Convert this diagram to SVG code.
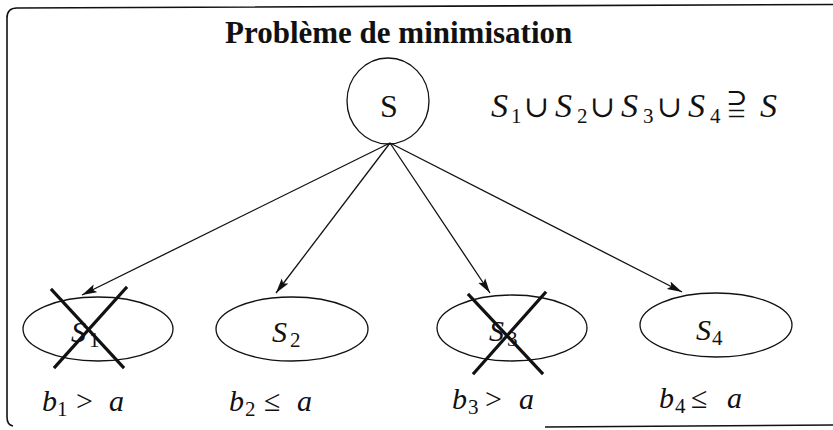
<svg xmlns="http://www.w3.org/2000/svg" width="833" height="430" viewBox="0 0 833 430">
<defs>
<style>
.frame{fill:none;stroke:#111;stroke-width:1.6}
.node{fill:none;stroke:#111;stroke-width:1.3}
.edge{fill:none;stroke:#111;stroke-width:1.3}
.cross{stroke:#111;stroke-width:3.2;stroke-linecap:square}
text{font-family:"Liberation Serif","Times New Roman","DejaVu Serif",serif;fill:#111}
.it{font-style:italic}
.sub{font-style:normal;font-size:21px}
.op{font-style:normal}
</style>
<marker id="ah" markerUnits="userSpaceOnUse" markerWidth="16" markerHeight="10" refX="15" refY="5" orient="auto">
<path d="M0,0.8 L15,5 L0,9.2 L3,5 Z" fill="#111"/>
</marker>
</defs>
<rect width="833" height="430" fill="#fff"/>
<path class="frame" d="M833,4.5 L17,8 Q7,8 7,18 L7,417 Q7,425 13,426"/>
<path class="frame" d="M545,427 L833,425"/>
<text x="225" y="43" font-size="31" font-weight="bold">Problème de minimisation</text>
<text class="it" font-size="34" y="117"><tspan x="491">S</tspan><tspan class="sub" x="511" dy="6">1</tspan><tspan class="op" x="524" dy="-6" font-size="30">∪</tspan><tspan x="555">S</tspan><tspan class="sub" x="577" dy="6">2</tspan><tspan class="op" x="590" dy="-6" font-size="30">∪</tspan><tspan x="621">S</tspan><tspan class="sub" x="643" dy="6">3</tspan><tspan class="op" x="657" dy="-6" font-size="30">∪</tspan><tspan x="688">S</tspan><tspan class="sub" x="710" dy="6">4</tspan><tspan class="op" x="728" dy="-6" font-size="40">⫆</tspan><tspan x="760">S</tspan></text>
<g id="edges">
<line class="edge" x1="390" y1="143" x2="82" y2="295" marker-end="url(#ah)"/>
<line class="edge" x1="390" y1="143" x2="276" y2="293" marker-end="url(#ah)"/>
<line class="edge" x1="390" y1="143" x2="490" y2="293" marker-end="url(#ah)"/>
<line class="edge" x1="390" y1="143" x2="682" y2="292" marker-end="url(#ah)"/>
</g>
<g id="S">
<ellipse class="node" cx="388" cy="101" rx="41" ry="43"/>
<text x="389" y="117" font-size="32" text-anchor="middle">S</text>
</g>
<g id="S1">
<ellipse class="node" cx="98" cy="329" rx="75" ry="32"/>
<text class="it" font-size="30" y="342"><tspan x="71">S</tspan><tspan class="sub" x="89" dy="5">1</tspan></text>
<line class="cross" x1="52" y1="290" x2="123" y2="367"/>
<line class="cross" x1="126" y1="288" x2="55" y2="367"/>
<text class="it" font-size="30" y="411"><tspan x="42">b</tspan><tspan class="sub" x="57" dy="5">1</tspan><tspan class="op" x="76" dy="-5">&gt;</tspan><tspan x="109">a</tspan></text>
</g>
<g id="S2">
<ellipse class="node" cx="292" cy="329" rx="76" ry="32"/>
<text class="it" font-size="30" y="342"><tspan x="272">S</tspan><tspan class="sub" x="290" dy="5">2</tspan></text>
<text class="it" font-size="30" y="411"><tspan x="229">b</tspan><tspan class="sub" x="245" dy="5">2</tspan><tspan class="op" x="264" dy="-5">≤</tspan><tspan x="297">a</tspan></text>
</g>
<g id="S3">
<ellipse class="node" cx="512" cy="328" rx="75" ry="33"/>
<text class="it" font-size="30" y="341"><tspan x="489">S</tspan><tspan class="sub" x="507" dy="5">3</tspan></text>
<line class="cross" x1="469" y1="295" x2="542" y2="373"/>
<line class="cross" x1="545" y1="293" x2="474" y2="373"/>
<text class="it" font-size="30" y="409"><tspan x="452">b</tspan><tspan class="sub" x="468" dy="5">3</tspan><tspan class="op" x="485" dy="-5">&gt;</tspan><tspan x="519">a</tspan></text>
</g>
<g id="S4">
<ellipse class="node" cx="716" cy="325" rx="76" ry="32"/>
<text class="it" font-size="30" y="340"><tspan x="696">S</tspan><tspan class="sub" x="712" dy="5">4</tspan></text>
<text class="it" font-size="30" y="408"><tspan x="659">b</tspan><tspan class="sub" x="675" dy="5">4</tspan><tspan class="op" x="691" dy="-5">≤</tspan><tspan x="727">a</tspan></text>
</g>
</svg>
